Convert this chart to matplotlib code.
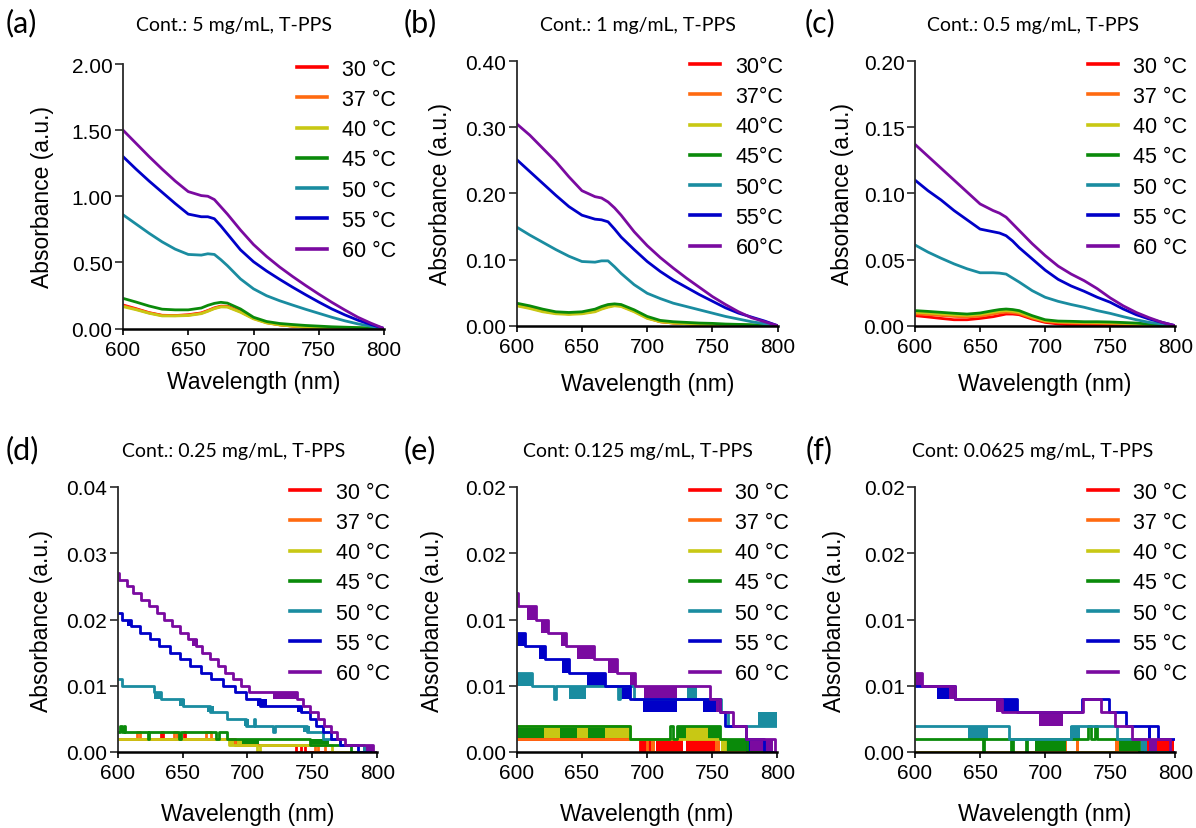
import matplotlib
matplotlib.use("Agg")
import matplotlib.pyplot as plt
from matplotlib.lines import Line2D
from matplotlib.ticker import FixedLocator, FixedFormatter

plt.rcParams['font.family'] = ['Liberation Sans', 'DejaVu Sans']

temps = [30, 37, 40, 45, 50, 55, 60]
colors = ['#FF0000', '#FF6A10', '#C8C814', '#0A8A0A', '#1A8CA0', '#0000C8', '#7A0AA0']

# ---- top row: smooth spectra, read every 10 nm (5 nm around the shoulder)
wl_top = [600, 610, 620, 630, 640, 650, 660, 665, 670, 675, 680, 690,
          700, 710, 720, 730, 740, 750, 760, 770, 780, 790, 800]

a_30 = [0.178, 0.150, 0.120, 0.100, 0.098, 0.104, 0.118, 0.136, 0.156, 0.169, 0.168, 0.130,
        0.078, 0.045, 0.028, 0.018, 0.010, 0.006, 0.004, 0.003, 0.002, 0.001, 0.0]
a_37 = [0.172, 0.146, 0.118, 0.098, 0.097, 0.101, 0.115, 0.133, 0.153, 0.166, 0.165, 0.127,
        0.076, 0.044, 0.028, 0.018, 0.010, 0.006, 0.004, 0.003, 0.002, 0.001, 0.0]
a_40 = [0.165, 0.142, 0.115, 0.095, 0.095, 0.098, 0.112, 0.130, 0.150, 0.163, 0.162, 0.123,
        0.073, 0.042, 0.027, 0.018, 0.010, 0.006, 0.004, 0.003, 0.002, 0.001, 0.0]
a_45 = [0.228, 0.200, 0.170, 0.146, 0.141, 0.141, 0.155, 0.175, 0.190, 0.198, 0.192, 0.148,
        0.085, 0.053, 0.038, 0.030, 0.023, 0.018, 0.013, 0.010, 0.007, 0.004, 0.0]
a_50 = [0.86, 0.79, 0.72, 0.655, 0.60, 0.56, 0.555, 0.565, 0.56, 0.52, 0.475, 0.375,
        0.30, 0.248, 0.21, 0.177, 0.145, 0.115, 0.085, 0.058, 0.035, 0.017, 0.0]
a_55 = [1.30, 1.205, 1.115, 1.03, 0.945, 0.865, 0.845, 0.845, 0.83, 0.775, 0.715, 0.595,
        0.505, 0.435, 0.372, 0.312, 0.255, 0.20, 0.148, 0.103, 0.063, 0.03, 0.0]
a_60 = [1.50, 1.40, 1.30, 1.205, 1.115, 1.035, 1.005, 1.00, 0.975, 0.92, 0.865, 0.745,
        0.635, 0.545, 0.465, 0.393, 0.325, 0.26, 0.198, 0.14, 0.085, 0.04, 0.0]

b_30 = [0.032, 0.028, 0.023, 0.019, 0.018, 0.019, 0.022, 0.026, 0.029, 0.031, 0.030, 0.022,
        0.012, 0.006, 0.004, 0.003, 0.002, 0.0015, 0.001, 0.001, 0.0005, 0.0, 0.0]
b_37 = [0.031, 0.027, 0.022, 0.019, 0.018, 0.019, 0.022, 0.026, 0.029, 0.031, 0.030, 0.022,
        0.012, 0.006, 0.004, 0.003, 0.002, 0.0015, 0.001, 0.001, 0.0005, 0.0, 0.0]
b_40 = [0.030, 0.026, 0.021, 0.018, 0.017, 0.018, 0.021, 0.025, 0.028, 0.030, 0.029, 0.021,
        0.011, 0.006, 0.004, 0.003, 0.002, 0.0015, 0.001, 0.001, 0.0005, 0.0, 0.0]
b_45 = [0.034, 0.030, 0.025, 0.021, 0.020, 0.021, 0.025, 0.029, 0.032, 0.033, 0.032, 0.024,
        0.014, 0.008, 0.006, 0.005, 0.004, 0.0035, 0.0025, 0.002, 0.0015, 0.001, 0.0]
b_50 = [0.149, 0.137, 0.126, 0.115, 0.105, 0.097, 0.096, 0.098, 0.098, 0.089, 0.079, 0.062,
        0.049, 0.041, 0.034, 0.029, 0.024, 0.019, 0.014, 0.010, 0.006, 0.003, 0.0]
b_55 = [0.251, 0.233, 0.215, 0.197, 0.180, 0.167, 0.161, 0.160, 0.157, 0.146, 0.134, 0.115,
        0.097, 0.082, 0.069, 0.058, 0.047, 0.037, 0.027, 0.019, 0.013, 0.007, 0.0]
b_60 = [0.305, 0.288, 0.268, 0.248, 0.225, 0.204, 0.195, 0.193, 0.187, 0.178, 0.167, 0.142,
        0.121, 0.103, 0.087, 0.072, 0.058, 0.044, 0.032, 0.021, 0.012, 0.006, 0.0]

c_30 = [0.0076, 0.0066, 0.0055, 0.0045, 0.0045, 0.0055, 0.0068, 0.0078, 0.0088, 0.0088, 0.0083, 0.0050,
        0.0025, 0.0013, 0.0006, 0.0004, 0.0003, 0.0002, 0.0001, 0.0, 0.0, 0.0, 0.0]
c_37 = [0.0090, 0.0084, 0.0077, 0.0070, 0.0066, 0.0072, 0.0088, 0.0097, 0.0102, 0.0099, 0.0092, 0.0058,
        0.0032, 0.0024, 0.0021, 0.0019, 0.0018, 0.0016, 0.0013, 0.0010, 0.0006, 0.0003, 0.0]
c_40 = [0.0102, 0.0096, 0.0089, 0.0082, 0.0078, 0.0085, 0.0102, 0.0110, 0.0114, 0.0110, 0.0102, 0.0066,
        0.0038, 0.0030, 0.0027, 0.0025, 0.0024, 0.0022, 0.0018, 0.0014, 0.0008, 0.0004, 0.0]
c_45 = [0.0114, 0.0108, 0.0101, 0.0094, 0.0088, 0.0096, 0.0114, 0.0122, 0.0126, 0.0122, 0.0114, 0.0076,
        0.0045, 0.0035, 0.0033, 0.0030, 0.0030, 0.0028, 0.0024, 0.0020, 0.0012, 0.0006, 0.0]
c_50 = [0.061, 0.0556, 0.051, 0.0467, 0.043, 0.040, 0.040, 0.0397, 0.039, 0.036, 0.033, 0.0265,
        0.0215, 0.0184, 0.016, 0.0139, 0.0114, 0.0093, 0.0068, 0.0045, 0.0025, 0.0013, 0.0]
c_55 = [0.110, 0.102, 0.095, 0.087, 0.080, 0.073, 0.071, 0.070, 0.068, 0.064, 0.059, 0.0505,
        0.042, 0.035, 0.030, 0.026, 0.0215, 0.0177, 0.0126, 0.0083, 0.005, 0.0025, 0.0]
c_60 = [0.137, 0.128, 0.119, 0.110, 0.101, 0.092, 0.087, 0.085, 0.082, 0.077, 0.072, 0.062,
        0.053, 0.045, 0.039, 0.034, 0.028, 0.021, 0.015, 0.010, 0.006, 0.0025, 0.0]

# ---- bottom row: quantised (0.001) readings, (wavelength where level starts, level)
d_30 = [(600, 0.002), (633, 0.003), (635, 0.002), (651, 0.003), (652, 0.002), (690, 0.001),
        (737, 0.0), (741, 0.001), (744, 0.0), (800, 0.0)]
d_37 = [(600, 0.002), (615, 0.003), (617, 0.002), (643, 0.003), (646, 0.002), (668, 0.003),
        (672, 0.002), (690, 0.001), (752, 0.0), (754, 0.001), (760, 0.0), (800, 0.0)]
d_40 = [(600, 0.002), (686, 0.001), (707, 0.0), (710, 0.001), (765, 0.0), (800, 0.0)]
d_45 = [(600, 0.003), (602, 0.004), (603, 0.003), (605, 0.004), (606, 0.003), (623, 0.002),
        (624, 0.003), (647, 0.002), (649, 0.003), (676, 0.002), (678, 0.003), (684, 0.002),
        (748, 0.001), (780, 0.0), (800, 0.0)]
d_50 = [(600, 0.011), (603, 0.010), (628, 0.009), (633, 0.008), (650, 0.007), (671, 0.006),
        (684, 0.005), (699, 0.004), (705, 0.005), (706, 0.004), (720, 0.003), (721, 0.004),
        (746, 0.003), (758, 0.002), (771, 0.001), (790, 0.0), (800, 0.0)]
d_55 = [(600, 0.021), (603, 0.020), (610, 0.019), (617, 0.018), (625, 0.017), (632, 0.016),
        (640, 0.015), (648, 0.014), (656, 0.013), (664, 0.012), (672, 0.011), (681, 0.010),
        (690, 0.009), (699, 0.008), (710, 0.007), (741, 0.006), (748, 0.005), (753, 0.004),
        (758, 0.003), (764, 0.002), (771, 0.001), (785, 0.0), (800, 0.0)]
d_60 = [(600, 0.027), (601, 0.026), (607, 0.025), (612, 0.024), (618, 0.023), (624, 0.022),
        (630, 0.021), (636, 0.020), (642, 0.019), (648, 0.018), (654, 0.017), (660, 0.016),
        (665, 0.015), (671, 0.014), (677, 0.013), (683, 0.012), (689, 0.011), (695, 0.010),
        (701, 0.009), (738, 0.008), (743, 0.007), (748, 0.006), (754, 0.005), (759, 0.004),
        (764, 0.003), (769, 0.002), (775, 0.001), (797, 0.0), (800, 0.0)]
# flicker regions: (temperature, from nm, to nm, low level, high level)
d_flicker = [(40, 686, 697, 0.001, 0.002), (45, 696, 709, 0.001, 0.002), (45, 748, 763, 0.001, 0.002),
             (50, 628, 633, 0.008, 0.009), (50, 647, 652, 0.007, 0.008), (50, 669, 674, 0.006, 0.007),
             (50, 697, 701, 0.004, 0.005), (50, 743, 748, 0.003, 0.004),
             (55, 607, 610, 0.019, 0.020), (55, 707, 715, 0.007, 0.008), (55, 738, 743, 0.006, 0.007),
             (60, 657, 662, 0.016, 0.017), (60, 720, 738, 0.008, 0.009), (60, 789, 797, 0.0, 0.001)]

e_30 = [(600, 0.001), (695, 0.0), (800, 0.0)]
e_37 = [(600, 0.001), (700, 0.0), (800, 0.0)]
e_40 = [(600, 0.002), (687, 0.001), (760, 0.0), (800, 0.0)]
e_45 = [(600, 0.002), (687, 0.001), (718, 0.002), (720, 0.001), (723, 0.002), (756, 0.001),
        (777, 0.0), (800, 0.0)]
e_50 = [(600, 0.006), (612, 0.005), (629, 0.004), (630, 0.005), (678, 0.004), (679, 0.005),
        (690, 0.004), (757, 0.003), (762, 0.002), (800, 0.002)]
e_55 = [(600, 0.009), (606, 0.008), (622, 0.007), (640, 0.006), (668, 0.005), (687, 0.004),
        (756, 0.003), (760, 0.002), (776, 0.001), (790, 0.0), (800, 0.0)]
e_60 = [(600, 0.012), (601, 0.011), (615, 0.010), (624, 0.009), (638, 0.008), (659, 0.007),
        (677, 0.006), (691, 0.005), (748, 0.004), (756, 0.003), (766, 0.002), (776, 0.001),
        (798, 0.0), (800, 0.0)]
e_flicker = [(30, 695, 704, 0.0, 0.001), (30, 707, 728, 0.0, 0.001), (30, 730, 756, 0.0, 0.001),
             (37, 703, 706, 0.0, 0.001), (37, 752, 756, 0.0, 0.001),
             (40, 621, 633, 0.001, 0.002), (40, 646, 655, 0.001, 0.002), (40, 668, 687, 0.001, 0.002),
             (40, 730, 747, 0.001, 0.002), (40, 757, 760, 0.0, 0.001),
             (45, 600, 621, 0.001, 0.002), (45, 633, 646, 0.001, 0.002), (45, 655, 668, 0.001, 0.002),
             (45, 723, 730, 0.001, 0.002), (45, 747, 756, 0.001, 0.002), (45, 760, 777, 0.0, 0.001),
             (50, 600, 612, 0.005, 0.006), (50, 640, 653, 0.004, 0.005), (50, 731, 738, 0.004, 0.005),
             (50, 785, 800, 0.002, 0.003),
             (55, 600, 606, 0.008, 0.009), (55, 617, 622, 0.007, 0.008), (55, 635, 640, 0.006, 0.007),
             (55, 654, 668, 0.005, 0.006), (55, 679, 687, 0.004, 0.005), (55, 697, 723, 0.003, 0.004),
             (55, 743, 756, 0.003, 0.004), (55, 776, 781, 0.0, 0.001),
             (60, 608, 615, 0.010, 0.011), (60, 619, 624, 0.009, 0.010), (60, 634, 638, 0.008, 0.009),
             (60, 646, 659, 0.007, 0.008), (60, 670, 677, 0.006, 0.007), (60, 687, 691, 0.005, 0.006),
             (60, 698, 723, 0.004, 0.005), (60, 753, 756, 0.003, 0.004), (60, 779, 797, 0.0, 0.001)]

f_30 = [(600, 0.0), (800, 0.0)]
f_37 = [(600, 0.0), (800, 0.0)]
f_40 = [(600, 0.0), (800, 0.0)]
f_45 = [(600, 0.001), (652, 0.0), (653, 0.001), (674, 0.0), (675, 0.001), (685, 0.0), (686, 0.001),
        (733, 0.002), (735, 0.001), (738, 0.002), (740, 0.001), (772, 0.0), (800, 0.0)]
f_50 = [(600, 0.002), (672, 0.001), (720, 0.002), (755, 0.001), (777, 0.0), (800, 0.0)]
f_55 = [(600, 0.005), (631, 0.004), (678, 0.003), (728, 0.004), (749, 0.003), (762, 0.002),
        (787, 0.001), (800, 0.001)]
f_60 = [(600, 0.006), (605, 0.005), (631, 0.004), (667, 0.003), (729, 0.004), (743, 0.003),
        (754, 0.002), (767, 0.001), (796, 0.0), (800, 0.0)]
f_flicker = [(30, 777, 799, 0.0, 0.001),
             (37, 695, 698, 0.0, 0.001), (37, 715, 717, 0.0, 0.001), (37, 724, 726, 0.0, 0.001),
             (37, 754, 758, 0.0, 0.001),
             (40, 698, 706, 0.0, 0.001), (40, 760, 764, 0.0, 0.001),
             (45, 692, 716, 0.0, 0.001), (45, 757, 772, 0.0, 0.001),
             (50, 641, 656, 0.001, 0.002), (50, 719, 727, 0.001, 0.002), (50, 774, 778, 0.0, 0.001),
             (55, 617, 628, 0.004, 0.005), (55, 666, 678, 0.003, 0.004), (55, 779, 781, 0.001, 0.002),
             (60, 600, 605, 0.005, 0.006), (60, 626, 631, 0.004, 0.005), (60, 662, 667, 0.003, 0.004),
             (60, 695, 714, 0.002, 0.003), (60, 780, 786, 0.0, 0.001)]

titles = ['Cont.: 5 mg/mL, T-PPS', 'Cont.: 1 mg/mL, T-PPS', 'Cont.: 0.5 mg/mL, T-PPS',
          'Cont.: 0.25 mg/mL, T-PPS', 'Cont: 0.125 mg/mL, T-PPS', 'Cont: 0.0625 mg/mL, T-PPS']
letters = ['(a)', '(b)', '(c)', '(d)', '(e)', '(f)']
yticks = [[0, 0.5, 1.0, 1.5, 2.0], [0, 0.1, 0.2, 0.3, 0.4], [0, 0.05, 0.10, 0.15, 0.20],
          [0, 0.01, 0.02, 0.03, 0.04], [0, 0.005, 0.010, 0.015, 0.020], [0, 0.005, 0.010, 0.015, 0.020]]
ylabels = [['0.00', '0.50', '1.00', '1.50', '2.00'], ['0.00', '0.10', '0.20', '0.30', '0.40'],
           ['0.00', '0.05', '0.10', '0.15', '0.20'], ['0.00', '0.01', '0.02', '0.03', '0.04'],
           ['0.00', '0.01', '0.01', '0.02', '0.02'], ['0.00', '0.01', '0.01', '0.02', '0.02']]
xticks = [600, 650, 700, 750, 800]

smooth = [[a_30, a_37, a_40, a_45, a_50, a_55, a_60],
          [b_30, b_37, b_40, b_45, b_50, b_55, b_60],
          [c_30, c_37, c_40, c_45, c_50, c_55, c_60]]
stepped = [[d_30, d_37, d_40, d_45, d_50, d_55, d_60],
           [e_30, e_37, e_40, e_45, e_50, e_55, e_60],
           [f_30, f_37, f_40, f_45, f_50, f_55, f_60]]
flickers = [d_flicker, e_flicker, f_flicker]

W, H = 1196, 829
fig = plt.figure(figsize=(W / 100, H / 100), dpi=100)

# axes boxes in pixels: left, top, right, bottom
boxes = [(123, 65, 384, 329.5), (516.7, 62, 777.7, 326.7), (915, 62, 1175.3, 326.7),
         (117.7, 488, 377.3, 753), (516.7, 488, 777.3, 753), (915, 488, 1175.3, 753)]
title_xy = [(234, 25), (638, 25), (1033, 25), (234, 452), (637.5, 452), (1033, 452)]
letter_xy = [(6, 23), (404, 23), (805, 23), (6, 450), (404, 450), (806, 450)]
ylab_x = [43, 440, 843, 42, 433, 834]
xlab_y = [383, 385, 385, 815, 815, 815]

for i in range(6):
    l, t, r, b = boxes[i]
    ax = fig.add_axes([l / W, 1 - b / H, (r - l) / W, (b - t) / H])
    col = i % 3
    if i < 3:
        for k, ys in enumerate(smooth[col]):
            ax.plot(wl_top, ys, color=colors[k], lw=2.0, solid_joinstyle='round')
    else:
        for k, pts in enumerate(stepped[col]):
            xs = [p[0] for p in pts]
            ys = [p[1] for p in pts]
            ax.step(xs, ys, where='post', color=colors[k], lw=2.0)
            for (tp, x0, x1, lo, hi) in flickers[col]:
                if tp == temps[k]:
                    ax.fill_between([x0, x1], [lo, lo], [hi, hi], color=colors[k], lw=0)

    ax.set_xlim(600, 800)
    ax.set_ylim(0, yticks[i][-1])
    ax.spines['top'].set_visible(False)
    ax.spines['right'].set_visible(False)
    ax.spines['left'].set_color('#2a2a2a')
    ax.spines['left'].set_linewidth(1.3)
    ax.spines['bottom'].set_color('black')
    ax.spines['bottom'].set_linewidth(1.8)
    ax.spines['bottom'].set_zorder(5)
    ax.set_xticks(xticks)
    ax.yaxis.set_major_locator(FixedLocator(yticks[i]))
    ax.yaxis.set_major_formatter(FixedFormatter(ylabels[i]))
    ax.tick_params(axis='y', length=6, width=1.2, pad=1.5, labelsize=15, colors='#2a2a2a',
                   labelcolor='black')
    ax.tick_params(axis='x', length=4, width=1.2, pad=4, labelsize=15)

    ax.set_ylabel('Absorbance (a.u.)', fontsize=16.5)
    ax.yaxis.set_label_coords((ylab_x[i] - l) / (r - l), 0.5)
    ax.yaxis.label.set_va('center')
    ax.set_xlabel('Wavelength (nm)', fontsize=16.5)
    ax.xaxis.set_label_coords(0.5, -(xlab_y[i] - b) / (b - t))
    ax.xaxis.label.set_va('center')

    fig.text(title_xy[i][0] / W, 1 - title_xy[i][1] / H, titles[i], fontsize=14,
             family='Lato', ha='center', va='center')
    fig.text(letter_xy[i][0] / W, 1 - letter_xy[i][1] / H, letters[i], fontsize=22,
             family='Lato', ha='left', va='center')

    sep = '' if i == 1 else ' '
    handles = [Line2D([], [], color=c, lw=2.6) for c in colors]
    labels = [f'{tp}{sep}°C' for tp in temps]
    top_y = 1.02 if i < 3 else 1.02
    ax.legend(handles, labels, loc='upper left', bbox_to_anchor=(0.665, top_y),
              frameon=False, fontsize=15.5, handlelength=1.4, handletextpad=0.7,
              labelspacing=0.43, borderpad=0, borderaxespad=0)

fig.savefig('out.png', dpi=100)
